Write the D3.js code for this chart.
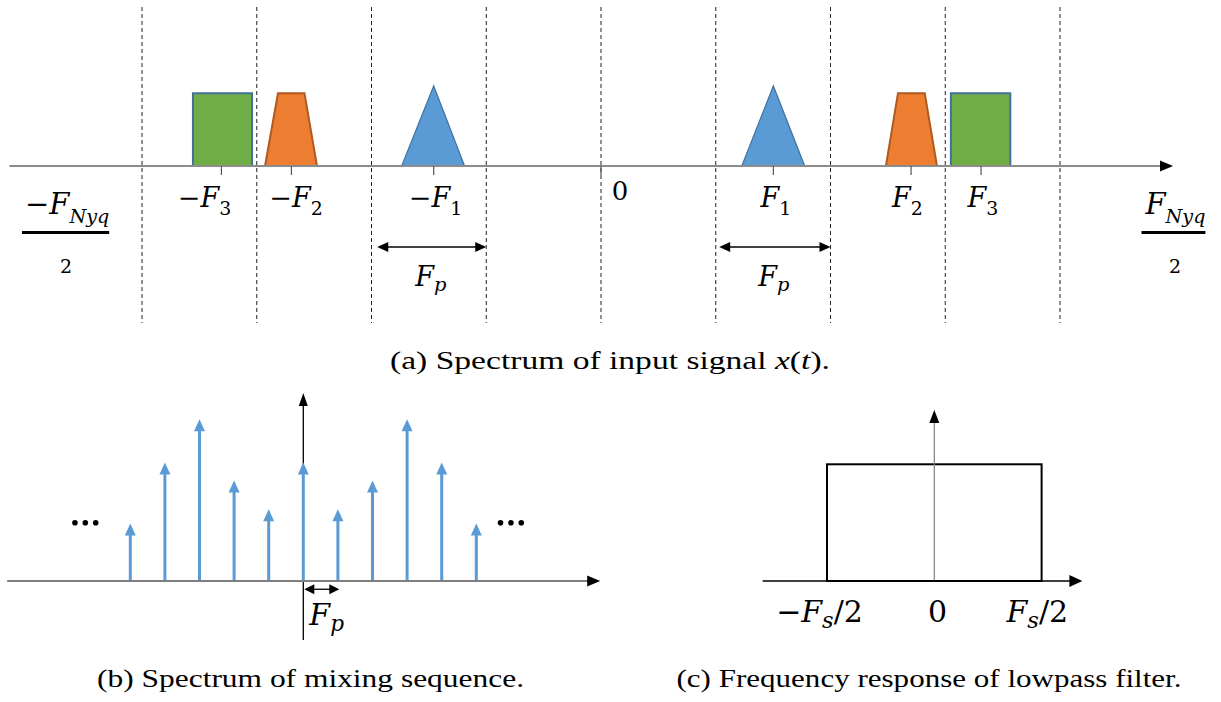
<!DOCTYPE html>
<html>
<head>
<meta charset="utf-8">
<script src="https://cdn.jsdelivr.net/npm/d3@7/dist/d3.min.js"></script>
<style>
  html, body { margin: 0; padding: 0; background: #fff; }
  svg { display: block; }
  .cap { font-family: "Liberation Serif", serif; }
  .math { font-family: "DejaVu Serif", serif; }
</style>
</head>
<body>
<svg id="chart" width="1221" height="702"></svg>
<script>
// ---------------- DATA ----------------
// (a) input spectrum, x in units of Fp, heights relative to triangle peak
const gridLines = [-4, -3, -2, -1, 0, 1, 2, 3, 4];
const bandShapes = ["rect", "trap", "tri", "tri", "trap", "rect"];
const bandSigns  = ["−", "−", "−", "", "", ""];
const bandSubs   = ["3", "2", "1", "1", "2", "3"];
const bandCenter = [-3.308, -2.698, -1.458, 1.502, 2.702, 3.312];
const bandLabelAt = [-3.455, -2.658, -1.442, 1.525, 2.671, 3.329];
const bandBaseLo = [-3.556, -2.928, -1.737, 1.227, 2.483, 3.049];
const bandBaseHi = [-3.041, -2.475, -1.189, 1.775, 2.928, 3.567];
const bandTopLo  = [-3.556, -2.815, -1.458, 1.502, 2.588, 3.049];
const bandTopHi  = [-3.041, -2.584, -1.458, 1.502, 2.821, 3.567];
const bandHeight = [0.91, 0.91, 1.0, 1.0, 0.91, 0.91];
const fpArrowFrom = [-1.95, 1.03];
const fpArrowTo   = [-1.0, 2.0];
const nyqStart = [-5.02, 4.745];
const nyqSign = ["−", ""];

// (b) mixing sequence spectrum, stems at k*Fp
const stemK = [-5, -4, -3, -2, -1, 0, 1, 2, 3, 4, 5];
const stemVals = [1.6, 3.3, 4.5, 2.8, 2.0, 3.3, 2.0, 2.8, 4.5, 3.3, 1.6];
const dotsLeft = [-6.6, -6.3, -6.0];
const dotsRight = [5.7, 6.0, 6.3];

// (c) lowpass filter, x in units of Fs/2
const filterEdges = [-1, 1];
const filterGain = 1;
const filterTicks = [-1, 0, 1];
const filterLabelAt = [-1.07, 0.03, 0.96];

const captions = [
  "(a) Spectrum of input signal ",
  "(b) Spectrum of mixing sequence.",
  "(c) Frequency response of lowpass filter."
];

// ---------------- DRAW ----------------
const svg = d3.select("#chart");
const colors = { rect: "#70AD47", trap: "#ED7D31", tri: "#5B9BD5" };
const strokes = { rect: "#41719C", trap: "#AE5A21", tri: "#41719C" };

function arrowHead(g, tipX, tipY, dir, len, half, fill) {
  let pts;
  if (dir === "right") pts = [[tipX, tipY], [tipX - len, tipY - half], [tipX - len, tipY + half]];
  else if (dir === "left") pts = [[tipX, tipY], [tipX + len, tipY - half], [tipX + len, tipY + half]];
  else pts = [[tipX, tipY], [tipX - half, tipY + len], [tipX + half, tipY + len]];
  g.append("path").attr("d", d3.line()(pts) + "Z").attr("fill", fill).attr("stroke", "none");
}

// parts: {t, i (italic), s (size factor), b (baseline offset in em of main size)}
function mathText(g, x, y, parts, fs, anchor) {
  const t = g.append("text").attr("class", "math").attr("x", x).attr("y", y)
    .attr("font-size", fs)
    .attr("text-anchor", anchor || "middle").attr("fill", "#000");
  let cur = 0;
  parts.forEach(p => {
    const off = (p.b || 0) * fs;
    const ts = t.append("tspan").text(p.t).attr("dy", off - cur);
    cur = off;
    if (p.i) ts.attr("font-style", "italic");
    if (p.s) ts.attr("font-size", fs * p.s);
  });
  return t;
}

// ===== Panel (a) =====
const xA = d3.scaleLinear().domain([0, 1]).range([601, 715.75]);
const yA = d3.scaleLinear().domain([0, 1]).range([166, 86]);
const gA = svg.append("g");

gA.selectAll("line.grid").data(gridLines).enter().append("line")
  .attr("x1", d => xA(d)).attr("x2", d => xA(d))
  .attr("y1", yA(1.0) - 79).attr("y2", yA(0) + 157)
  .attr("stroke", "#222").attr("stroke-width", 1).attr("stroke-dasharray", "4,3");

bandShapes.forEach((s, i) => {
  const pts = [
    [xA(bandBaseLo[i]), yA(0)],
    [xA(bandTopLo[i]), yA(bandHeight[i])],
    [xA(bandTopHi[i]), yA(bandHeight[i])],
    [xA(bandBaseHi[i]), yA(0)]
  ];
  gA.append("path").attr("d", d3.line()(pts) + "Z")
    .attr("fill", colors[s]).attr("stroke", strokes[s])
    .attr("stroke-width", s === "tri" ? 1.2 : 2).attr("stroke-linejoin", "miter");
});

gA.append("line").attr("x1", xA(-5.155)).attr("x2", xA(4.9))
  .attr("y1", yA(0)).attr("y2", yA(0)).attr("stroke", "#8c8c8c").attr("stroke-width", 2);
arrowHead(gA, xA(4.985), yA(0), "right", 13, 5.5, "#000");

gA.selectAll("line.tick").data(bandCenter.concat([0])).enter().append("line")
  .attr("x1", d => xA(d)).attr("x2", d => xA(d))
  .attr("y1", yA(0)).attr("y2", yA(0) + 9).attr("stroke", "#555").attr("stroke-width", 1.2);

bandLabelAt.forEach((c, i) => {
  const parts = [];
  if (bandSigns[i]) parts.push({ t: "−" });
  parts.push({ t: "F", i: true });
  parts.push({ t: bandSubs[i], s: 0.7, b: 0.28 });
  mathText(gA, xA(c), yA(0) + 41, parts, 27);
});
mathText(gA, xA(0) + 19, yA(0) + 34, [{ t: "0" }], 26);

fpArrowFrom.forEach((f, i) => {
  const y = yA(0) + 81;
  gA.append("line").attr("x1", xA(f) + 6).attr("x2", xA(fpArrowTo[i]) - 6)
    .attr("y1", y).attr("y2", y).attr("stroke", "#000").attr("stroke-width", 1.3);
  arrowHead(gA, xA(f), y, "left", 11, 5, "#000");
  arrowHead(gA, xA(fpArrowTo[i]), y, "right", 11, 5, "#000");
  const cx = (xA(f) + xA(fpArrowTo[i])) / 2;
  mathText(gA, cx - 1, yA(0) + 120, [{ t: "F", i: true }, { t: "p", i: true, s: 0.72, b: 0.2 }], 27);
});

nyqStart.forEach((p, i) => {
  const parts = [];
  if (nyqSign[i]) parts.push({ t: "−" });
  parts.push({ t: "F", i: true });
  parts.push({ t: "Nyq", i: true, s: 0.66, b: 0.32 });
  const t = mathText(gA, xA(p), yA(0) + 48, parts, 29, "start");
  const bb = t.node().getBBox();
  gA.append("line").attr("x1", bb.x - 3).attr("x2", bb.x + bb.width)
    .attr("y1", yA(0) + 66.5).attr("y2", yA(0) + 66.5)
    .attr("stroke", "#000").attr("stroke-width", 2.8);
  const cx = i === 0 ? bb.x + bb.width / 2 - 1 : bb.x + bb.width / 2;
  mathText(gA, cx, yA(0) + 107, [{ t: "2" }], 19);
});

const capA = svg.append("text").attr("class", "cap").attr("x", 610).attr("y", 369)
  .attr("font-size", 26).attr("text-anchor", "middle")
  .attr("textLength", 440).attr("lengthAdjust", "spacingAndGlyphs");
capA.append("tspan").text(captions[0]);
capA.append("tspan").text("x").attr("font-style", "italic");
capA.append("tspan").text("(");
capA.append("tspan").text("t").attr("font-style", "italic");
capA.append("tspan").text(").");

// ===== Panel (b) =====
const xB = d3.scaleLinear().domain([0, 1]).range([303.3, 337.9]);
const yB = d3.scaleLinear().domain([0, 4.5]).range([581, 419.3]);
const gB = svg.append("g");

gB.append("line").attr("x1", xB(0)).attr("x2", xB(0))
  .attr("y1", yB(-1.64)).attr("y2", yB(5.0)).attr("stroke", "#000").attr("stroke-width", 1.3);
arrowHead(gB, xB(0), yB(5.23), "up", 13, 4.5, "#000");

stemK.forEach((k, i) => {
  gB.append("line").attr("x1", xB(k)).attr("x2", xB(k))
    .attr("y1", yB(0)).attr("y2", yB(stemVals[i]) + 10)
    .attr("stroke", "#5B9BD5").attr("stroke-width", 3);
  arrowHead(gB, xB(k), yB(stemVals[i]), "up", 12, 5.5, "#5B9BD5");
});

gB.append("line").attr("x1", xB(-8.56)).attr("x2", xB(8.3))
  .attr("y1", yB(0)).attr("y2", yB(0)).attr("stroke", "#7f7f7f").attr("stroke-width", 2);
arrowHead(gB, xB(8.58), yB(0), "right", 13, 5.5, "#000");

gB.selectAll("circle").data(dotsLeft.concat(dotsRight)).enter().append("circle")
  .attr("cx", d => xB(d)).attr("cy", yB(1.62)).attr("r", 2.8).attr("fill", "#000");

{
  const y = yB(-0.23);
  gB.append("line").attr("x1", xB(0) + 5).attr("x2", xB(1.04) - 5)
    .attr("y1", y).attr("y2", y).attr("stroke", "#000").attr("stroke-width", 1.3);
  arrowHead(gB, xB(0) + 1, y, "left", 10, 5, "#000");
  arrowHead(gB, xB(1.04), y, "right", 10, 5, "#000");
  mathText(gB, xB(0) + 6, yB(0) + 44, [{ t: "F", i: true }, { t: "p", i: true, s: 0.72, b: 0.2 }], 30, "start");
}

svg.append("text").attr("class", "cap").attr("x", 310.5).attr("y", 687)
  .attr("font-size", 26).attr("text-anchor", "middle")
  .attr("textLength", 427).attr("lengthAdjust", "spacingAndGlyphs")
  .text(captions[1]);

// ===== Panel (c) =====
const xC = d3.scaleLinear().domain([-1, 1]).range([827, 1041.6]);
const yC = d3.scaleLinear().domain([0, 1]).range([581, 464.3]);
const gC = svg.append("g");

gC.append("rect")
  .attr("x", xC(filterEdges[0])).attr("y", yC(filterGain))
  .attr("width", xC(filterEdges[1]) - xC(filterEdges[0]))
  .attr("height", yC(0) - yC(filterGain))
  .attr("fill", "none").attr("stroke", "#000").attr("stroke-width", 2);

gC.append("line").attr("x1", xC(0)).attr("x2", xC(0))
  .attr("y1", yC(0)).attr("y2", yC(1.38)).attr("stroke", "#7f7f7f").attr("stroke-width", 1.2);
arrowHead(gC, xC(0), yC(1.465), "up", 13, 5, "#000");

gC.append("line").attr("x1", xC(-1.6)).attr("x2", xC(1.3))
  .attr("y1", yC(0)).attr("y2", yC(0)).attr("stroke", "#000").attr("stroke-width", 1.5);
arrowHead(gC, xC(1.38), yC(0), "right", 13, 6, "#000");

filterTicks.forEach((v, i) => {
  let parts;
  if (v === 0) parts = [{ t: "0" }];
  else parts = (v < 0 ? [{ t: "−" }] : []).concat([
    { t: "F", i: true }, { t: "s", i: true, s: 0.75, b: 0.2 }, { t: "/2", b: 0 }]);
  mathText(gC, xC(filterLabelAt[i]), yC(0) + 41, parts, 30);
});

svg.append("text").attr("class", "cap").attr("x", 929).attr("y", 687)
  .attr("font-size", 26).attr("text-anchor", "middle")
  .attr("textLength", 505).attr("lengthAdjust", "spacingAndGlyphs")
  .text(captions[2]);
</script>
</body>
</html>
